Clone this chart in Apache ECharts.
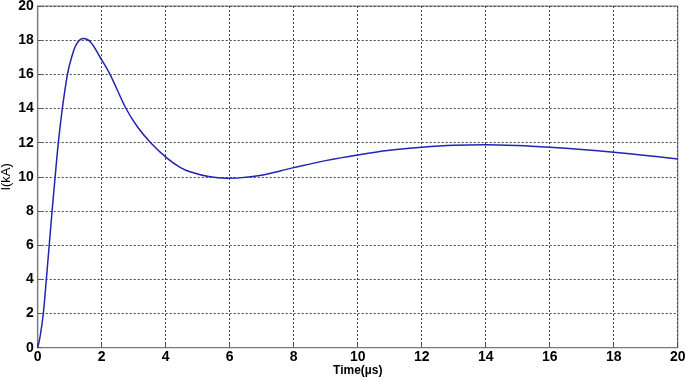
<!DOCTYPE html>
<html>
<head>
<meta charset="utf-8">
<script src="https://cdn.jsdelivr.net/npm/echarts@6/dist/echarts.min.js"></script>
<style>html,body{margin:0;padding:0;background:#fff;}#c{width:686px;height:381px;}</style>
</head>
<body>
<div id="c"></div>
<script>
const timeUs = [0, 0.08, 0.175, 0.27, 0.36, 0.45, 0.545, 0.645, 0.77, 0.93, 1.06, 1.22, 1.43, 1.65, 1.95, 2.26, 2.76, 3.12, 3.53, 4.05, 4.45, 4.76, 5.38, 5.9, 6.3, 7.0, 7.6, 8.0, 9.0, 10, 11, 12, 13, 14, 15, 16, 17, 18, 19, 20];
const currentKA = [0, 0.7, 2, 4, 6, 8, 10, 12, 14, 16, 17, 17.8, 18.1, 17.9, 17.0, 16, 14, 12.92, 12, 11.08, 10.56, 10.3, 10.0, 9.92, 9.94, 10.1, 10.36, 10.54, 10.95, 11.28, 11.55, 11.73, 11.85, 11.88, 11.83, 11.73, 11.6, 11.44, 11.25, 11.05];
const xTicks = [0, 2, 4, 6, 8, 10, 12, 14, 16, 18, 20];
const yTicks = [0, 2, 4, 6, 8, 10, 12, 14, 16, 18, 20];

const chart = echarts.init(document.getElementById('c'));
const labelStyle = {fontFamily: 'Liberation Sans', fontWeight: 'bold', fontSize: 14, color: '#000'};
chart.setOption({
  animation: false,
  grid: {left: 37.7, right: 8.3, top: 6, bottom: 33.3, containLabel: false, outerBoundsMode: 'none', show: true, borderColor: '#7a7a7a', borderWidth: 1.2, backgroundColor: '#fff'},
  xAxis: {
    type: 'value', min: xTicks[0], max: xTicks[xTicks.length - 1], interval: 2,
    name: 'Time(\u00b5s)', nameLocation: 'middle', nameGap: 17, nameMoveOverlap: false,
    nameTextStyle: {fontFamily: 'Liberation Sans', fontWeight: 'bold', fontSize: 12, color: '#000'},
    axisLine: {show: true, lineStyle: {color: '#7a7a7a', width: 1.2}},
    axisTick: {show: true, inside: true, length: 4, lineStyle: {color: '#555'}},
    axisLabel: Object.assign({margin: 2}, labelStyle),
    splitLine: {show: true, lineStyle: {type: [2, 2], color: '#444', width: 1}}
  },
  yAxis: {
    type: 'value', min: yTicks[0], max: yTicks[yTicks.length - 1], interval: 2,
    name: 'I(kA)', nameLocation: 'middle', nameGap: 25, nameMoveOverlap: false,
    nameTextStyle: {fontFamily: 'Liberation Sans', fontSize: 13, color: '#000'},
    axisLine: {show: true, lineStyle: {color: '#7a7a7a', width: 1.2}},
    axisTick: {show: true, inside: true, length: 4, lineStyle: {color: '#555'}},
    axisLabel: Object.assign({margin: 4}, labelStyle),
    splitLine: {show: true, lineStyle: {type: [2, 2], color: '#444', width: 1}}
  },
  series: [{
    type: 'line',
    data: timeUs.map((t, i) => [t, currentKA[i]]),
    smooth: 0.35,
    showSymbol: false,
    lineStyle: {color: '#2323b4', width: 1.5}
  }]
});
</script>
</body>
</html>
